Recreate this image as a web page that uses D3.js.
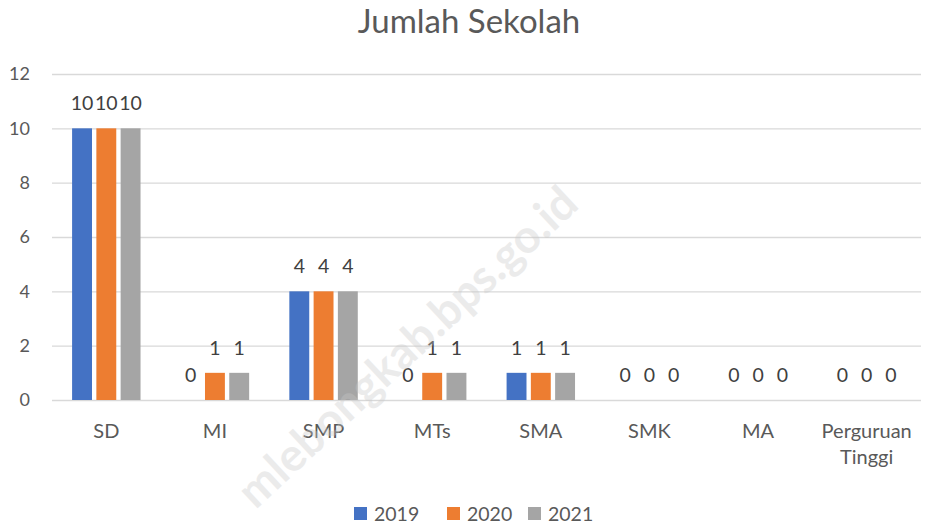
<!DOCTYPE html>
<html>
<head>
<meta charset="utf-8">
<script src="https://cdn.jsdelivr.net/npm/d3@7"></script>
<style>
  html, body { margin: 0; padding: 0; background: #fff; }
  svg { display: block; font-family: Lato, "Open Sans", sans-serif; }
</style>
</head>
<body>
<svg id="chart" width="932" height="526"></svg>
<script>
const categories = ["SD", "MI", "SMP", "MTs", "SMA", "SMK", "MA", "Perguruan Tinggi"];
const seriesNames = ["2019", "2020", "2021"];
const values2019 = [10, 0, 4, 0, 1, 0, 0, 0];
const values2020 = [10, 1, 4, 1, 1, 0, 0, 0];
const values2021 = [10, 1, 4, 1, 1, 0, 0, 0];
const colors = ["#4472C4", "#ED7D31", "#A5A5A5"];
const yTicks = [0, 2, 4, 6, 8, 10, 12];
const titleText = "Jumlah Sekolah";
const watermarkText = "mlebongkab.bps.go.id";

const seriesValues = [values2019, values2020, values2021];

const svg = d3.select("#chart");
const plotLeft = 52, plotRight = 921, plotTop = 74, plotBottom = 400;

const x = d3.scaleBand().domain(categories).range([plotLeft, plotRight]).padding(0);
const groupW = x.bandwidth() * 0.63;
const x1 = d3.scaleBand().domain(seriesNames).range([-groupW / 2, groupW / 2]).paddingInner(0.18);
const y = d3.scaleLinear().domain([0, 12]).range([plotBottom, plotTop]);

// title
svg.append("text")
  .attr("x", 469).attr("y", 33)
  .attr("text-anchor", "middle")
  .attr("font-size", 33)
  .attr("fill", "#595959")
  .text(titleText);

// gridlines
const yAxis = d3.axisLeft(y).tickValues(yTicks).tickSize(-(plotRight - plotLeft)).tickPadding(22);
const gy = svg.append("g").attr("transform", `translate(${plotLeft},0)`).call(yAxis);
gy.select(".domain").remove();
gy.selectAll(".tick line").attr("stroke", "#d9d9d9").attr("stroke-width", 1.3);
gy.selectAll(".tick text")
  .attr("fill", "#595959").attr("font-size", 18)
  .attr("font-family", "Lato, 'Open Sans', sans-serif");

// bars
const groups = svg.append("g").selectAll("g")
  .data(categories)
  .join("g")
  .attr("transform", d => `translate(${x(d) + x.bandwidth() / 2},0)`);

groups.each(function(cat, ci) {
  const g = d3.select(this);
  seriesNames.forEach((s, si) => {
    const v = seriesValues[si][ci];
    g.append("rect")
      .attr("x", x1(s))
      .attr("width", x1.bandwidth())
      .attr("y", y(v))
      .attr("height", y(0) - y(v))
      .attr("fill", colors[si]);
    g.append("text")
      .attr("x", x1(s) + x1.bandwidth() / 2)
      .attr("y", y(v) - 18)
      .attr("text-anchor", "middle")
      .attr("font-size", 19.5)
      .attr("fill", "#404040")
      .text(v);
  });
});

// category labels
const xAxis = d3.axisBottom(x).tickSize(0).tickPadding(0);
const gx = svg.append("g").attr("transform", `translate(0,${plotBottom})`).call(xAxis);
gx.select(".domain").remove();
gx.selectAll(".tick text").remove();
gx.selectAll(".tick").each(function(d) {
  const t = d3.select(this).append("text")
    .attr("text-anchor", "middle")
    .attr("fill", "#595959")
    .attr("font-size", 20)
    .attr("font-family", "Lato, 'Open Sans', sans-serif");
  const words = d === "Perguruan Tinggi" ? ["Perguruan", "Tinggi"] : [d];
  words.forEach((w, i) => {
    t.append("tspan").attr("x", 0).attr("y", 38 + i * 26).text(w);
  });
});

// legend
const legendX = [354, 447, 528];
const lg = svg.append("g");
seriesNames.forEach((s, i) => {
  lg.append("rect").attr("x", legendX[i]).attr("y", 507).attr("width", 13).attr("height", 13).attr("fill", colors[i]);
  lg.append("text").attr("x", legendX[i] + 20).attr("y", 521)
    .attr("font-size", 19.5).attr("fill", "#595959").text(s);
});

// watermark
svg.append("text")
  .attr("transform", "translate(410,350) rotate(-43)")
  .attr("text-anchor", "middle")
  .attr("dominant-baseline", "middle")
  .attr("font-size", 46)
  .attr("font-weight", "bold")
  .attr("fill", "#c8c8c8")
  .attr("opacity", 0.35)
  .text(watermarkText);
</script>
</body>
</html>
